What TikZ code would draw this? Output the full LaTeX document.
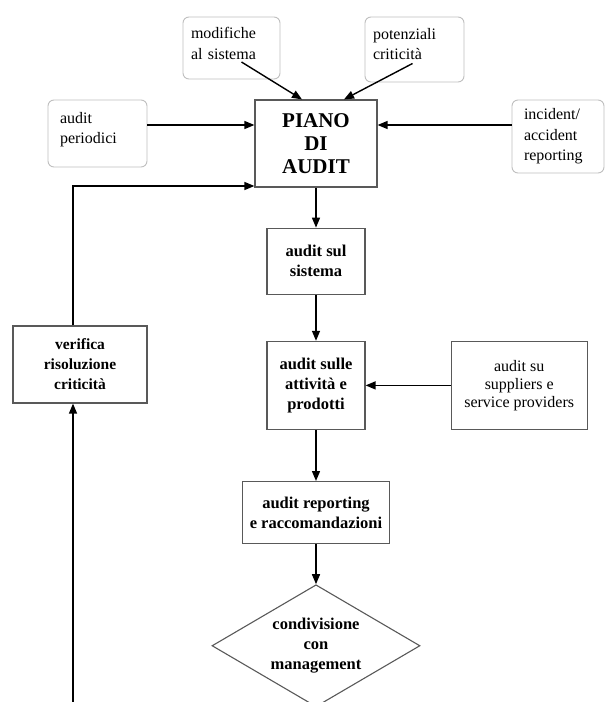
\documentclass[tikz,border=0pt]{standalone}
\usepackage{fontspec}
\setmainfont{Liberation Serif}
\usetikzlibrary{arrows.meta, positioning, shapes.geometric}
\tikzset{%
	note/.style={draw=gray!50, line width=0.9pt, rounded corners=6pt, fill=white,%
		align=left, inner xsep=8pt, inner ysep=0pt, font=\fontsize{16}{20.5}\selectfont},
	stepbox/.style={draw=black!65, line width=1.2pt, fill=white, align=center,%
		inner sep=0pt, font=\fontsize{16.5}{20}\selectfont\bfseries},
	decision/.style={draw=black!65, line width=1.1pt, diamond, aspect=1.7, align=center,%
		inner sep=0pt, font=\fontsize{16.5}{20}\selectfont\bfseries},
	flow/.style={-{Triangle[length=10pt,width=8pt]}, line width=1.4pt},
	link/.style={line width=1.4pt}
}
\begin{document}
\begin{tikzpicture}[x=1pt, y=-1pt]
	\useasboundingbox (0,0) rectangle (605,702);

	\node[stepbox, font=\fontsize{21}{23}\selectfont\bfseries, minimum width=122pt, minimum height=87pt] (piano) at (316,143.5) {PIANO\\DI\\AUDIT};
	\node[stepbox, minimum width=98pt, minimum height=66pt, below=40pt of piano] (sistema) {audit sul\\sistema};
	\node[stepbox, minimum width=98pt, minimum height=88pt, below=46pt of sistema] (attivita) {audit sulle\\attività e\\prodotti};
	\node[stepbox, minimum width=147pt, minimum height=62pt, below=51pt of attivita] (reporting) {audit reporting\\e raccomandazioni};
	\node[decision, minimum width=208pt, minimum height=122pt, below=40pt of reporting] (condivisione) {condivisione\\con\\management};

	\node[stepbox, font=\fontsize{16}{18}\selectfont, minimum width=136pt, minimum height=88pt, right=85pt of attivita] (suppliers) {audit su\\suppliers e\\service providers};
	\node[stepbox, font=\fontsize{15.5}{20}\selectfont\bfseries, minimum width=134pt, minimum height=77pt] (verifica) at (80,364.5) {verifica\\risoluzione\\criticità};

	\node[note, text width=81pt, minimum height=62pt, text depth=30pt] (modifiche) at (231.5,48) {modifiche\\al sistema};
	\node[note, text width=83pt, minimum height=65pt, text depth=32pt, inner xsep=8pt] (potenziali) at (414.5,49.5) {potenziali\\criticità};
	\node[note, text width=75pt, minimum height=67pt, text depth=32pt, inner xsep=12pt] (periodici) at (97.5,133.5) {audit\\periodici};
	\node[note, text width=68pt, minimum height=73pt, inner xsep=12pt] (incident) at (558,136.5) {incident/\\accident\\reporting};

	\coordinate (row) at (0,125);
	\coordinate (fbtop) at (73,186);
	\coordinate (fbbot) at (73,702);

	\draw[flow] (piano) -- (sistema);
	\draw[flow] (sistema) -- (attivita);
	\draw[flow] (attivita) -- (reporting);
	\draw[flow] (reporting) -- (condivisione);
	\draw[flow] (suppliers) -- (attivita);

	\draw[flow] (periodici.east |- row) -- (piano.west |- row);
	\draw[flow] (incident.west |- row) -- (piano.east |- row);
	\draw[flow] ([shift={(10,14)}]modifiche.center) -- ([xshift=-14pt]piano.north);
	\draw[flow] ([shift={(-2,14)}]potenziali.center) -- ([xshift=28pt]piano.north);

	% ritorno da verifica al piano
	\draw[flow] (verifica.north -| fbtop) |- (piano.west |- fbtop);
	\draw[flow] (fbbot) -- (fbbot |- verifica.south);
\end{tikzpicture}
\end{document}
